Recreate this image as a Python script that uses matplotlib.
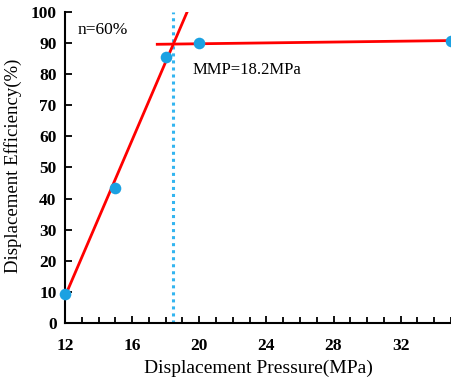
import numpy as np
import matplotlib
matplotlib.use('Agg')
import matplotlib.pyplot as plt
from matplotlib.ticker import MultipleLocator

# datos medidos
presion = [12, 15, 18, 20, 35]
eficiencia = [9.3, 43.4, 85.5, 90.0, 90.8]

# rectas de ajuste (dos tramos)
recta1_x = [12, 19.28]
recta1_y = [8.5, 100]
recta2_x = [17.5, 35]
recta2_y = [89.6, 90.8]
mmp = 18.45

plt.rcParams['font.family'] = ['Liberation Serif', 'DejaVu Serif']

fig = plt.figure(figsize=(4.51, 3.85), dpi=100)
ax = fig.add_axes([0.144, 0.161, 0.856, 0.808])

ax.plot(recta1_x, recta1_y, c='#ff0000', lw=2, zorder=3)
ax.plot(recta2_x, recta2_y, c='#ff0000', lw=2, zorder=3)
ax.plot([mmp, mmp], [0, 100], c='#33b5f0', ls=(0, (1, 1.3)), lw=2.2, zorder=2)
ax.scatter(presion, eficiencia, s=70, c='#1ba1e2', zorder=4, clip_on=False, linewidths=0)

ax.set_xlim(12, 35)
ax.set_ylim(0, 100)
ax.xaxis.set_minor_locator(MultipleLocator(1))
ax.yaxis.set_major_locator(MultipleLocator(10))
ax.set_xticks([12, 16, 20, 24, 28, 32])

ax.tick_params(axis='both', which='both', direction='in', width=1.3, labelsize=12.5)
ax.tick_params(axis='x', which='major', length=5, pad=11)
ax.tick_params(axis='x', which='minor', length=4)
ax.tick_params(axis='y', which='major', length=5, pad=6)
for lbl in ax.get_xticklabels() + ax.get_yticklabels():
    lbl.set_fontweight('bold')

for s in ['top', 'right']:
    ax.spines[s].set_visible(False)
for s in ['left', 'bottom']:
    ax.spines[s].set_linewidth(1.5)

ax.set_xlabel('Displacement Pressure(MPa)', fontsize=14, labelpad=4)
ax.set_ylabel('Displacement Efficiency(%)', fontsize=13.5)
ax.yaxis.set_label_coords(-0.111, 0.505)

ax.text(12.75, 93, 'n=60%', fontsize=12.5)
ax.text(19.63, 80, 'MMP=18.2MPa', fontsize=12)

plt.savefig('out.png', dpi=100)
plt.close()
